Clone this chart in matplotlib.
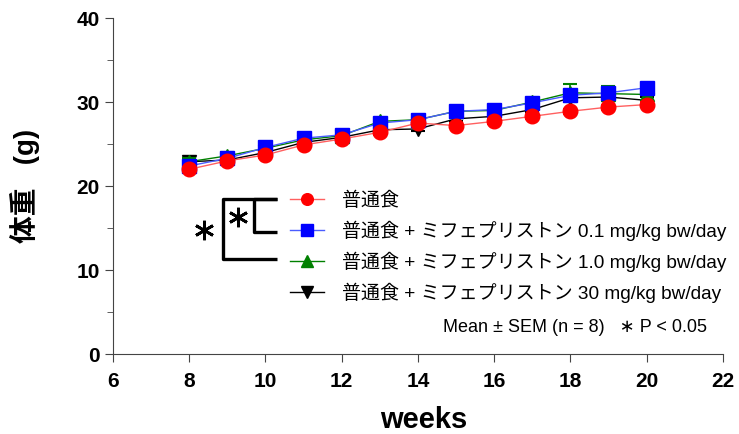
import numpy as np
import matplotlib
matplotlib.use("Agg")
import matplotlib.pyplot as plt

plt.rcParams['font.family'] = ['Liberation Sans', 'Noto Sans CJK JP', 'DejaVu Sans']

# data
weeks = [8, 9, 10, 11, 12, 13, 14, 15, 16, 17, 18, 19, 20]
normal = [22.0, 23.0, 23.7, 24.9, 25.6, 26.4, 27.5, 27.2, 27.7, 28.3, 28.9, 29.4, 29.7]
mif_01 = [22.4, 23.3, 24.6, 25.7, 26.1, 27.5, 27.9, 28.9, 29.1, 29.9, 30.8, 31.1, 31.7]
mif_10 = [22.9, 23.6, 24.5, 25.5, 26.0, 27.7, 27.9, 28.9, 29.0, 30.0, 31.1, 31.0, 30.9]
mif_30 = [22.9, 23.1, 24.0, 25.2, 25.8, 26.7, 26.8, 28.0, 28.3, 29.1, 30.5, 30.6, 30.2]
sem_normal = [0.3, 0.3, 0.3, 0.3, 0.3, 0.3, 0.3, 0.3, 0.3, 0.3, 0.3, 0.3, 0.3]
sem_01 = [0.3, 0.3, 0.3, 0.3, 0.3, 0.3, 0.3, 0.3, 0.3, 0.3, 0.4, 0.4, 0.4]
sem_10 = [0.4, 0.4, 0.3, 0.3, 0.3, 0.4, 0.3, 0.3, 0.3, 0.4, 1.0, 0.9, 0.6]
sem_30 = [0.4, 0.3, 0.3, 0.3, 0.3, 0.3, 0.3, 0.3, 0.3, 0.3, 0.5, 0.4, 0.4]

labels = ['普通食',
          '普通食 + ミフェプリストン 0.1 mg/kg bw/day',
          '普通食 + ミフェプリストン 1.0 mg/kg bw/day',
          '普通食 + ミフェプリストン 30 mg/kg bw/day']

fig = plt.figure(figsize=(7.39, 4.34), dpi=100)
ax = fig.add_axes([0.153, 0.184, 0.825, 0.7745])

series = [
    (mif_30, sem_30, 'black', 'black', 'v', labels[3]),
    (mif_10, sem_10, '#008000', '#008000', '^', labels[2]),
    (mif_01, sem_01, '#4a5cff', '#0000ff', 's', labels[1]),
    (normal, sem_normal, '#ff6060', '#ff0000', 'o', labels[0]),
]
handles = {}
for vals, err, lc, mc, mk, lab in series:
    ax.errorbar(weeks, vals, yerr=err, color=mc, elinewidth=1.2, capsize=5,
                capthick=1.5, fmt='none')
    h, = ax.plot(weeks, vals, color=lc, lw=1, marker=mk, markersize=10.5,
                 markerfacecolor=mc, markeredgecolor=mc, label=lab)
    handles[lab] = h

ax.set_xlim(6, 22)
ax.set_ylim(0, 40)
ax.set_xticks(range(6, 23, 2))
ax.set_yticks(range(0, 41, 10))
ax.set_yticks([5, 15, 25, 35], minor=True)
for s in ['top', 'right']:
    ax.spines[s].set_visible(False)
for s in ['left', 'bottom']:
    ax.spines[s].set_color('#444444')
ax.tick_params(which='major', length=6, color='#444444', labelsize=15)
ax.tick_params(which='minor', length=4, color='#444444')
ax.tick_params(axis='x', pad=7)
for t in ax.get_xticklabels() + ax.get_yticklabels():
    t.set_fontweight('bold')

ax.set_xlabel('weeks', fontsize=21, fontweight='bold')
ax.xaxis.set_label_coords(0.51, -0.155)
ax.set_ylabel('体重   (g)', fontsize=20, fontweight='bold', labelpad=26)

leg = ax.legend([handles[l] for l in labels], labels, frameon=False,
                loc='upper left', bbox_to_anchor=(0.278, 0.506),
                fontsize=13.7, handlelength=1.8, handletextpad=0.95,
                labelspacing=0.56, borderaxespad=0, markerscale=0.8)

# significance brackets
ax.plot([10.3, 8.885, 8.885, 10.3], [18.45, 18.45, 11.3, 11.3], color='black', lw=2.4,
        solid_capstyle='butt', clip_on=False)
ax.plot([10.3, 9.7, 9.7, 10.3], [18.45, 18.45, 14.5, 14.5], color='black', lw=2.4,
        solid_capstyle='butt', clip_on=False)
ax.plot([8.39, 9.28], [14.76, 16.31], linestyle='none', marker=(6, 2, 0),
        markersize=14, markeredgewidth=2.0, color='black', clip_on=False)

ax.text(0.974, 0.080, 'Mean ± SEM (n = 8)   ∗ P < 0.05', transform=ax.transAxes,
        fontsize=13, ha='right', va='center')

fig.savefig('out.png', dpi=100)
